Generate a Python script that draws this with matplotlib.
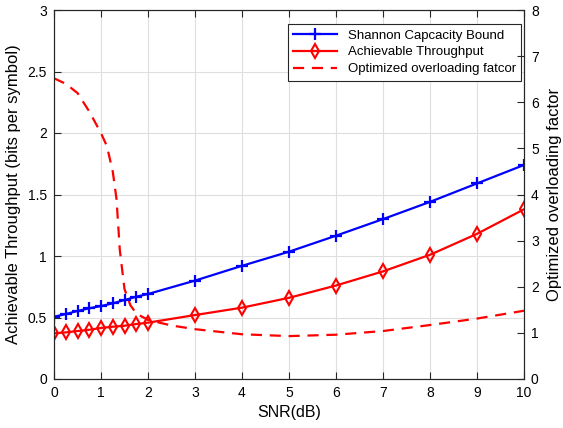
import numpy as np
import matplotlib.pyplot as plt

plt.rcParams['font.family'] = ['Liberation Sans', 'DejaVu Sans']

# SNR points (dB) used for both throughput curves
snr = [0, 0.25, 0.5, 0.75, 1, 1.25, 1.5, 1.75, 2, 3, 4, 5, 6, 7, 8, 9, 10]
shannon = [0.506, 0.528, 0.553, 0.575, 0.593, 0.615, 0.642, 0.669, 0.691,
           0.80, 0.92, 1.035, 1.165, 1.30, 1.44, 1.59, 1.74]
achievable = [0.371, 0.379, 0.39, 0.40, 0.415, 0.425, 0.433, 0.447, 0.458,
              0.52, 0.58, 0.66, 0.76, 0.875, 1.01, 1.18, 1.38]

# optimized overloading factor (right axis)
snr_ol = [0, 0.25, 0.5, 0.75, 1, 1.125, 1.25, 1.33, 1.4, 1.5, 1.625, 1.75,
          2, 2.5, 3, 4, 5, 6, 7, 8, 9, 10]
overload = [6.52, 6.4, 6.2, 5.8, 5.33, 5.05, 4.5, 3.9, 2.8, 1.95, 1.6, 1.42,
            1.28, 1.16, 1.08, 0.97, 0.93, 0.96, 1.04, 1.17, 1.31, 1.48]

fig = plt.figure(figsize=(5.63, 4.28), dpi=100)
ax = fig.add_axes([54/563, 49/428, 470/563, 369/428])
ax2 = ax.twinx()

grid_c = '#dedede'
ax.set_axisbelow(True)
ax.grid(True, color=grid_c, linewidth=0.8)

l1, = ax.plot(snr, shannon, '-', color='#0000ff', lw=1.6, marker='+',
              ms=9, mew=1.6, label='Shannon Capcacity Bound')
l2, = ax.plot(snr, achievable, '-', color='#ff0000', lw=1.6, marker='d',
              ms=7.5, mew=1.5, mfc='none', label='Achievable Throughput')
l3, = ax2.plot(snr_ol, overload, '--', color='#ff0000', lw=1.6,
               dashes=(5, 3.5), label='Optimized overloading fatcor')

ax.set_xlim(0, 10)
ax.set_ylim(0, 3)
ax2.set_ylim(0, 8)
ax.set_xticks(np.arange(0, 11, 1))
ax.set_yticks(np.arange(0, 3.01, 0.5))
ax.set_yticklabels(['0', '0.5', '1', '1.5', '2', '2.5', '3'])
ax2.set_yticks(np.arange(0, 9, 1))

for a in (ax, ax2):
    for s in a.spines.values():
        s.set_linewidth(0.8)
        s.set_color('#262626')
ax.tick_params(direction='in', length=5, width=0.8, labelsize=10, pad=5,
               top=True, colors='#262626', labelcolor='black')
ax2.tick_params(direction='in', length=5, width=0.8, labelsize=10, pad=5,
                colors='#262626', labelcolor='black')

ax.set_xlabel('SNR(dB)', fontsize=11.5, labelpad=4)
ax.set_ylabel('Achievable Throughput (bits per symbol)', fontsize=12, labelpad=5)
ax2.set_ylabel('Optimized overloading factor', fontsize=12, labelpad=6)

leg = ax.legend(handles=[l1, l2, l3], loc='upper right', fontsize=9.5,
                frameon=True, fancybox=False, framealpha=1, edgecolor='#262626',
                borderpad=0.4, handlelength=3.3, labelspacing=0.35,
                borderaxespad=0, bbox_to_anchor=(0.9936, 0.962))
leg.get_frame().set_linewidth(0.8)

fig.savefig('out.png', dpi=100)
